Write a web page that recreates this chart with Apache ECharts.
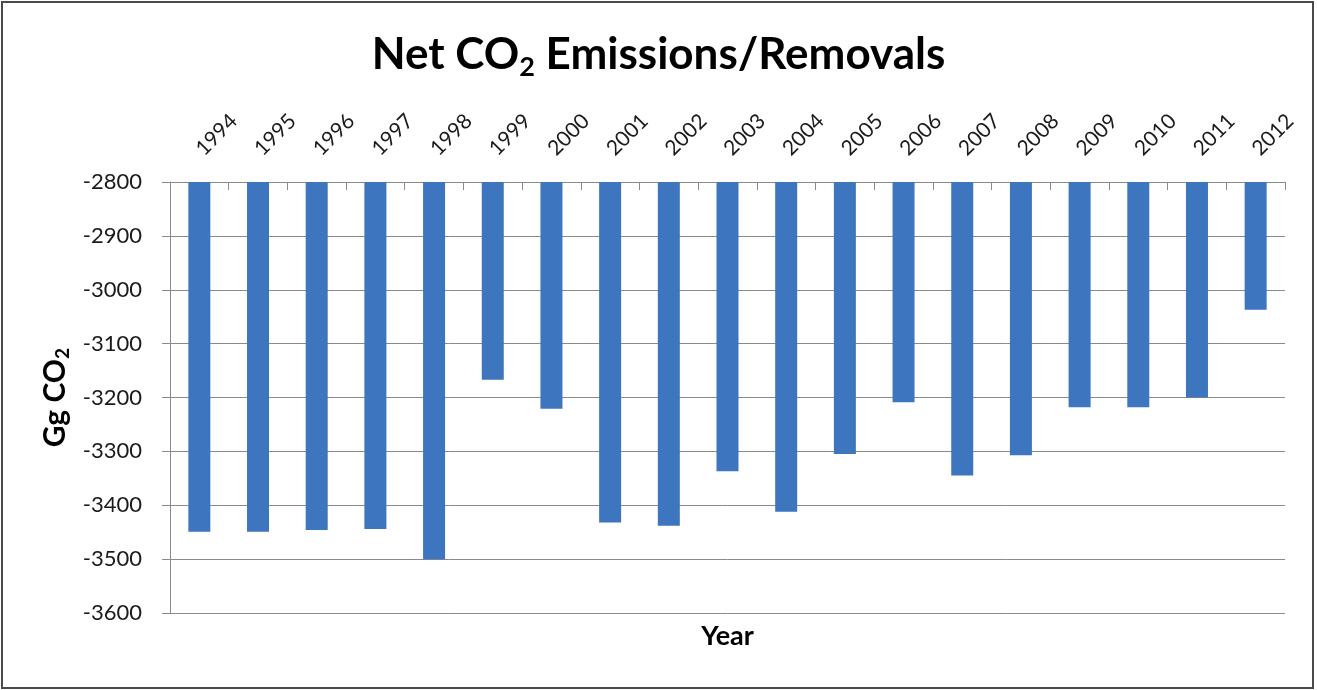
<!DOCTYPE html>
<html>
<head>
<meta charset="utf-8">
<title>Net CO2 Emissions/Removals</title>
<script src="https://cdn.jsdelivr.net/npm/echarts@6/dist/echarts.min.js"></script>
<style>
  html, body { margin: 0; padding: 0; background: #fff; }
  #chart { width: 1317px; height: 690px; }
</style>
</head>
<body>
<div id="chart"></div>
<script>
// Net CO2 emissions/removals per year, in Gg CO2
const years = ['1994', '1995', '1996', '1997', '1998', '1999', '2000', '2001', '2002', '2003',
               '2004', '2005', '2006', '2007', '2008', '2009', '2010', '2011', '2012'];
const netCO2 = [-3449, -3449, -3446, -3444, -3500, -3167, -3221, -3432, -3438, -3337,
                -3412, -3305, -3209, -3345, -3307, -3218, -3218, -3200, -3037];

const FONT = 'Lato, "Open Sans", sans-serif';
const GRID_COLOR = '#8a8a8a';

const chart = echarts.init(document.getElementById('chart'), null, { renderer: 'canvas' });

chart.setOption({
  animation: false,
  backgroundColor: '#ffffff',
  title: {
    text: 'Net CO{sub|2} Emissions/Removals',
    left: 'center',
    top: 24,
    textStyle: {
      fontFamily: FONT,
      fontWeight: 'bold',
      fontSize: 44,
      lineHeight: 52,
      color: '#000',
      rich: {
        sub: {
          fontFamily: FONT,
          fontWeight: 'bold',
          fontSize: 27,
          lineHeight: 20,
          verticalAlign: 'bottom',
          color: '#000'
        }
      }
    }
  },
  // outer frame of the chart
  graphic: [{
    type: 'rect',
    shape: { x: 2, y: 2, width: 1311, height: 686 },
    style: { fill: 'none', stroke: '#4a4a4a', lineWidth: 2 },
    silent: true,
    z: 100
  }],
  grid: {
    left: 170,
    right: 32,
    top: 182,
    bottom: 77,
    containLabel: false
  },
  xAxis: [{
    type: 'category',
    data: years,
    position: 'top',
    boundaryGap: true,
    axisLine: { onZero: false, lineStyle: { color: GRID_COLOR, width: 1 } },
    axisTick: { show: true, inside: true, length: 8, alignWithLabel: false, lineStyle: { color: GRID_COLOR } },
    axisLabel: {
      rotate: -45,
      margin: 30,
      fontFamily: FONT,
      fontSize: 21,
      color: '#1a1a1a',
      interval: 0
    },
    splitLine: { show: false }
  }, {
    type: 'category',
    data: years,
    position: 'bottom',
    axisLine: { show: false },
    axisTick: { show: false },
    axisLabel: { show: false },
    name: 'Year',
    nameLocation: 'middle',
    nameGap: 10,
    nameTextStyle: {
      fontFamily: FONT,
      fontWeight: 'bold',
      fontSize: 27,
      color: '#000'
    }
  }],
  yAxis: {
    type: 'value',
    min: -3600,
    max: -2800,
    interval: 100,
    axisLine: { show: true, onZero: false, lineStyle: { color: GRID_COLOR, width: 1 } },
    axisTick: { show: true, inside: false, length: 8, lineStyle: { color: GRID_COLOR } },
    axisLabel: {
      margin: 28,
      fontFamily: FONT,
      fontSize: 22,
      color: '#1a1a1a',
      formatter: (v) => String(v)
    },
    splitLine: { show: true, lineStyle: { color: GRID_COLOR, width: 1 } },
    name: 'Gg CO{sub|2}',
    nameLocation: 'middle',
    nameRotate: 90,
    nameGap: 92,
    nameTextStyle: {
      fontFamily: FONT,
      fontWeight: 'bold',
      fontSize: 30,
      lineHeight: 34,
      color: '#000',
      rich: {
        sub: {
          fontFamily: FONT,
          fontWeight: 'bold',
          fontSize: 19,
          lineHeight: 14,
          verticalAlign: 'bottom',
          color: '#000'
        }
      }
    }
  },
  series: [{
    type: 'bar',
    data: netCO2,
    xAxisIndex: 0,
    barWidth: 22,
    clip: true,
    itemStyle: { color: '#3e75bf' }
  }]
});
</script>
</body>
</html>
